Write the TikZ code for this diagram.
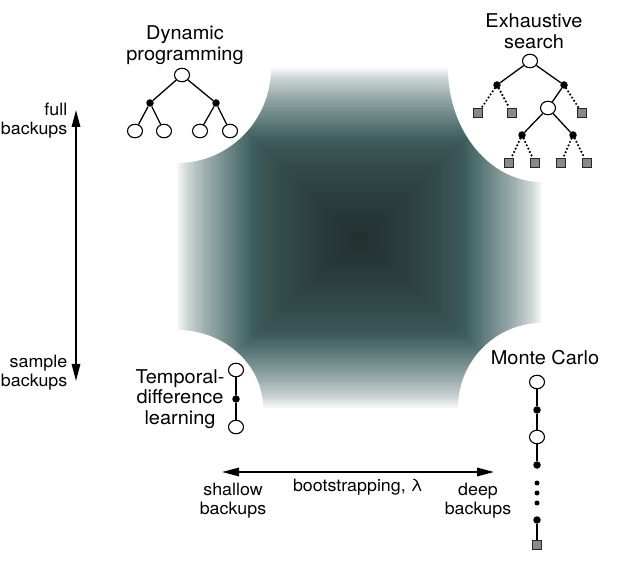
\documentclass[tikz,border=0pt]{standalone}
\usepackage{fontspec}
\setmainfont[FakeStretch=1.05]{TeX Gyre Heros}
\usetikzlibrary{arrows.meta,shapes.geometric}
\definecolor{tealmid}{RGB}{68,100,100}
\definecolor{tealdark}{RGB}{34,48,48}
\definecolor{sqgray}{RGB}{138,138,138}
\tikzset{
  opencirc/.style={ellipse,draw,fill=white,minimum width=15pt,minimum height=13.5pt,inner sep=0pt,line width=1.1pt},
  blackdot/.style={circle,fill=black,minimum size=7.5pt,inner sep=0pt},
  smalldot/.style={circle,fill=black,minimum size=5pt,inner sep=0pt},
  graysq/.style={rectangle,draw=black!85,fill=sqgray,minimum size=9pt,inner sep=0pt,line width=0.9pt},
  edge/.style={line width=1.3pt},
  dotedge/.style={line width=2.4pt,dash pattern=on 0pt off 3.7pt,line cap=round},
  biglabel/.style={font=\fontsize{19}{20.5}\selectfont,align=center,inner sep=0pt},
  smalllabel/.style={font=\fontsize{17}{19}\selectfont,inner sep=0pt},
  axisarrow/.style={line width=1.6pt,{Triangle[length=17pt,width=8.5pt]}-{Triangle[length=17pt,width=8.5pt]}}
}
\begin{document}
\begin{tikzpicture}[x=1pt,y=-1pt]
\useasboundingbox (0,0) rectangle (630,572);
% --- shaded square (nested rectangles) ---
\foreach \i in {0,...,89}{
  \pgfmathsetmacro\t{(\i+0.5)/90}
  \pgfmathsetmacro\s{1-\i/90}
  \ifdim\t pt<0.4pt
    \pgfmathtruncatemacro\p{100*pow(\t/0.4,0.7)}
    \fill[tealmid!\p!white] ({359.5-182.5*\s},{238-170*\s}) rectangle ({359.5+182.5*\s},{238+170*\s});
  \else
    \pgfmathtruncatemacro\p{100*pow((\t-0.4)/0.6,0.6)}
    \fill[tealdark!\p!tealmid] ({359.5-182.5*\s},{238-170*\s}) rectangle ({359.5+182.5*\s},{238+170*\s});
  \fi
}
% --- white corner cut-outs ---
\fill[white] (177,68) ellipse [x radius=94, y radius=95];
\fill[white] (542,68) ellipse [x radius=94, y radius=114];
\fill[white] (177,408) ellipse [x radius=86, y radius=78];
\fill[white] (542,408) ellipse [x radius=84, y radius=85];

% --- Dynamic programming ---
\node[biglabel] (dplabel) at (185,45) {Dynamic\\programming};
\node[opencirc] (dp0) at (182,75) {};
\node[blackdot] (dpa) at (150,103) {};
\node[blackdot] (dpb) at (216,103) {};
\node[opencirc] (dp1) at (135,131) {};
\node[opencirc] (dp2) at (164,131) {};
\node[opencirc] (dp3) at (200,131) {};
\node[opencirc] (dp4) at (230,131) {};
\draw[edge] (dp0) -- (dpa);
\draw[edge] (dp0) -- (dpb);
\draw[edge] (dpa) -- (dp1);
\draw[edge] (dpa) -- (dp2);
\draw[edge] (dpb) -- (dp3);
\draw[edge] (dpb) -- (dp4);

% --- Exhaustive search ---
\node[biglabel] (eslabel) at (534,31) {Exhaustive\\search};
\node[opencirc] (es0) at (530,61) {};
\node[blackdot] (esa) at (497,85) {};
\node[blackdot] (esb) at (564,85) {};
\node[graysq] (esq1) at (478,113) {};
\node[graysq] (esq2) at (512,113) {};
\node[opencirc] (es1) at (548,108) {};
\node[graysq] (esq3) at (582,113) {};
\node[blackdot] (esc) at (522,135) {};
\node[blackdot] (esd) at (573,135) {};
\node[graysq] (esq4) at (509,163) {};
\node[graysq] (esq5) at (535,163) {};
\node[graysq] (esq6) at (561,163) {};
\node[graysq] (esq7) at (587,163) {};
\draw[edge] (es0) -- (esa);
\draw[edge] (es0) -- (esb);
\draw[dotedge] (esa) -- (esq1);
\draw[dotedge] (esa) -- (esq2);
\draw[edge] (esb) -- (es1);
\draw[dotedge] (esb) -- (esq3);
\draw[edge] (es1) -- (esc);
\draw[edge] (es1) -- (esd);
\draw[dotedge] (esc) -- (esq4);
\draw[dotedge] (esc) -- (esq5);
\draw[dotedge] (esd) -- (esq6);
\draw[dotedge] (esd) -- (esq7);

% --- Temporal-difference learning ---
\node[biglabel] (tdlabel) at (180,399) {Temporal-\\difference\\learning};
\node[opencirc] (td0) at (236,370) {};
\node[blackdot] (tda) at (236,399) {};
\node[opencirc] (td1) at (236,427) {};
\draw[edge] (td0) -- (tda);
\draw[edge] (tda) -- (td1);

% --- Monte Carlo ---
\node[biglabel] (mclabel) at (545,358) {Monte Carlo};
\node[opencirc] (mc0) at (537,382) {};
\node[blackdot] (mca) at (537,410) {};
\node[opencirc] (mc1) at (537,437) {};
\node[blackdot] (mcb) at (537,465) {};
\node[smalldot] (mce1) at (537,483) {};
\node[smalldot] (mce2) at (537,493) {};
\node[smalldot] (mce3) at (537,503) {};
\node[blackdot] (mcc) at (537,520) {};
\node[graysq] (mcq) at (537,545) {};
\draw[edge] (mc0) -- (mca);
\draw[edge] (mca) -- (mc1);
\draw[edge] (mc1) -- (mcb);
\draw[edge] (mcc) -- (mcq);

% --- vertical axis ---
\coordinate (vtop) at (76,110);
\coordinate (vbot) at (76,381);
\draw[axisarrow] (vbot) -- (vtop);
\node[smalllabel,anchor=east,align=right] (full) at (67.5,121) {full\\backups};
\node[smalllabel,anchor=east,align=right] (sample) at (67.5,373) {sample\\backups};

% --- horizontal axis ---
\coordinate (hleft) at (222,472);
\coordinate (hright) at (494,472);
\draw[axisarrow] (hleft) -- (hright);
\node[smalllabel] (boot) at (358,487) {bootstrapping, λ};
\node[smalllabel,align=center] (shallow) at (233,501) {shallow\\backups};
\node[smalllabel,align=center] (deep) at (478,501) {deep\\backups};
\end{tikzpicture}
\end{document}
